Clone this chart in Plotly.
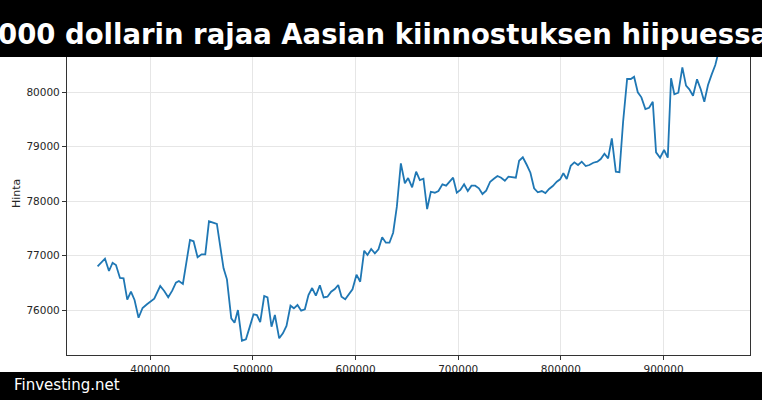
import plotly.graph_objects as go

# tietopisteet (luettu kuvasta)
x_vals = [
    348700, 355900, 359800, 363300, 366600, 370500, 374000, 377600, 381200, 384700,
    388600, 392500, 396800, 401000, 403900, 409700, 413600, 417500, 421400, 425000,
    427900, 431800, 435700, 438700, 442200, 446100, 450000, 453600, 457200, 464900,
    468200, 471400, 474700, 478900, 482100, 485400, 489300, 493200, 496900, 500600,
    503900, 507100, 511000, 514200, 518100, 521400, 525600, 529200, 532700, 536600,
    539900, 543400, 547000, 550600, 554100, 557700, 561300, 565200, 568900, 572600,
    576200, 579800, 583100, 586300, 589900, 593500, 597000, 600900, 604500, 608400,
    611600, 615200, 618800, 622300, 625900, 629500, 633000, 636600, 640200, 644100,
    648000, 651200, 655100, 659000, 662600, 666100, 669700, 673300, 677200, 680700,
    684600, 688200, 691400, 695000, 698600, 702100, 705700, 709300, 712900, 716500,
    720100, 723600, 727200, 731100, 734700, 738200, 741800, 745400, 748900, 752500,
    756100, 759300, 762900, 766800, 770300, 773900, 777500, 781400, 784900, 788500,
    792100, 796000, 799200, 802400, 805700, 809600, 813100, 816700, 820300, 824200,
    827700, 831600, 835500, 838800, 842400, 846000, 849600, 853500, 857000, 860600,
    864500, 868100, 871300, 874900, 878400, 882300, 885900, 889500, 892700, 896600,
    900500, 904100, 907300, 910500, 914400, 918300, 921900, 925100, 928700, 932600,
    936200, 939700, 943300, 946900, 950400, 953800,
]
hinta = [
    76803, 76943, 76717, 76869, 76827, 76588, 76583, 76189, 76336, 76184,
    75858, 76037, 76105, 76171, 76208, 76441, 76349, 76233, 76355, 76502,
    76533, 76478, 76950, 77287, 77263, 76969, 77024, 77024, 77630, 77581,
    77163, 76766, 76564, 75847, 75767, 76000, 75436, 75461, 75690, 75921,
    75908, 75779, 76257, 76233, 75693, 75908, 75480, 75572, 75706, 76079,
    76031, 76092, 75987, 76013, 76276, 76404, 76263, 76454, 76230, 76244,
    76336, 76386, 76460, 76244, 76197, 76289, 76380, 76649, 76520, 77090,
    77011, 77121, 77042, 77116, 77336, 77237, 77237, 77421, 77899, 78696,
    78329, 78426, 78255, 78542, 78389, 78413, 77856, 78174, 78156, 78187,
    78310, 78285, 78358, 78432, 78156, 78206, 78310, 78187, 78285, 78285,
    78237, 78132, 78193, 78358, 78413, 78463, 78432, 78376, 78450, 78439,
    78432, 78744, 78807, 78665, 78524, 78237, 78163, 78187, 78150, 78224,
    78279, 78358, 78402, 78513, 78408, 78652, 78715, 78665, 78726, 78647,
    78665, 78707, 78726, 78775, 78873, 78788, 79156, 78542, 78531, 79461,
    80246, 80246, 80288, 80001, 79909, 79694, 79718, 79829, 78898, 78799,
    78941, 78799, 80259, 79965, 79994, 80461, 80123, 80057, 79939, 80240,
    80057, 79829, 80136, 80332, 80503, 80760,
]
x_ticks = [400000, 500000, 600000, 700000, 800000, 900000]
y_ticks = [76000, 77000, 78000, 79000, 80000]

otsikko = "000 dollarin rajaa Aasian kiinnostuksen hiipuessa"
alaviite = "Finvesting.net"

fig = go.Figure()
fig.add_trace(
    go.Scatter(
        x=x_vals,
        y=hinta,
        mode="lines",
        line=dict(color="#1f77b4", width=1.8),
        showlegend=False,
    )
)

tick_font = dict(family="DejaVu Sans", size=10.5, color="#262626")

fig.update_layout(
    width=762,
    height=400,
    margin=dict(l=67, r=12, t=32, b=45),
    paper_bgcolor="white",
    plot_bgcolor="white",
    xaxis=dict(
        range=[318900, 984200],
        tickvals=x_ticks,
        ticktext=[str(v) for v in x_ticks],
        showgrid=True,
        gridcolor="#e6e6e6",
        gridwidth=1,
        zeroline=False,
        showline=True,
        linecolor="#333333",
        linewidth=1.2,
        mirror=True,
        ticks="outside",
        ticklen=4,
        tickcolor="#333333",
        tickfont=tick_font,
    ),
    yaxis=dict(
        range=[75173, 81110],
        tickvals=y_ticks,
        ticktext=[str(v) for v in y_ticks],
        showgrid=True,
        gridcolor="#e6e6e6",
        gridwidth=1,
        zeroline=False,
        showline=True,
        linecolor="#333333",
        linewidth=1.2,
        mirror=True,
        ticks="outside",
        ticklen=4,
        tickcolor="#333333",
        tickfont=tick_font,
    ),
)

# mustat palkit ylä- ja alareunaan
fig.add_shape(type="rect", xref="paper", yref="paper",
              x0=-0.2, x1=1.2, y0=0.9226, y1=1.2,
              fillcolor="black", line_width=0, layer="above")
fig.add_shape(type="rect", xref="paper", yref="paper",
              x0=-0.2, x1=1.2, y0=-0.2, y1=-0.0526,
              fillcolor="black", line_width=0, layer="above")

# tekstit
fig.add_annotation(
    text=otsikko, xref="paper", yref="paper", x=0.4627, y=0.9938,
    xanchor="center", yanchor="middle", showarrow=False,
    font=dict(family="DejaVu Sans", size=27.5, color="white", weight="bold"),
)
fig.add_annotation(
    text=alaviite, xref="paper", yref="paper", x=-0.0805, y=-0.0929,
    xanchor="left", yanchor="middle", showarrow=False,
    font=dict(family="DejaVu Sans", size=15, color="white"),
)
fig.add_annotation(
    text="Hinta", xref="paper", yref="paper", x=-0.0747, y=0.5015,
    xanchor="center", yanchor="middle", showarrow=False, textangle=-90,
    font=dict(family="DejaVu Sans", size=11, color="#262626"),
)

# sivun oletusmarginaali pois, jotta kuva alkaa vasemmasta yläkulmasta
fig.write_html(
    "out.html",
    config={"displayModeBar": False},
    post_script="document.body.style.margin='0px';document.body.style.overflow='hidden';",
)
